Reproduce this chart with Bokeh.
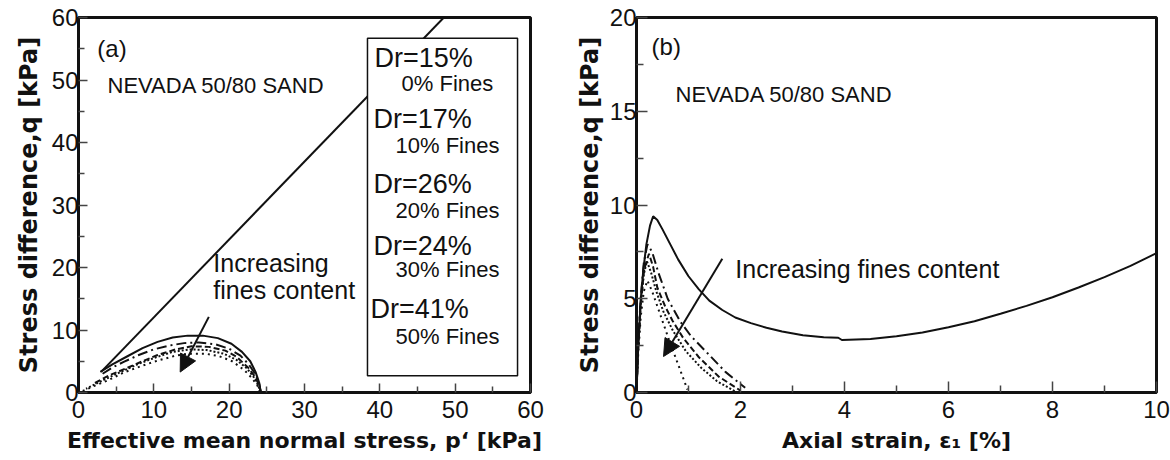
from bokeh.plotting import figure
from bokeh.layouts import row
from bokeh.models import Range1d, Label, BoxAnnotation, Arrow, NormalHead, FixedTicker
from bokeh.embed import file_html
from bokeh.resources import INLINE

# ---------------- data ----------------
fines = ["0% Fines", "10% Fines", "20% Fines", "30% Fines", "50% Fines"]
dr_labels = ["Dr=15%", "Dr=17%", "Dr=26%", "Dr=24%", "Dr=41%"]

# (a) stress paths: p' [kPa], q [kPa]
csl_p = [3.0, 48.5]
csl_q = [3.3, 60.0]
p_f0 = [24.2, 24.0, 23.5, 22.8, 21.7, 20.3, 18.5, 16.5, 14.5, 12.5, 10.5, 8.5, 6.5, 4.5, 2.9]
q_f0 = [0.0, 1.5, 3.3, 5.0, 6.5, 7.8, 8.7, 9.1, 9.1, 8.8, 8.1, 7.1, 5.8, 4.5, 3.3]
p_f10 = [24.2, 24.0, 23.5, 22.6, 21.5, 20.0, 18.2, 16.0, 14.0, 12.0, 10.0, 8.0, 6.0, 4.5, 3.2]
q_f10 = [0.0, 1.3, 2.9, 4.5, 5.9, 7.0, 7.7, 8.0, 7.9, 7.5, 6.9, 6.0, 4.9, 4.0, 3.0]
p_f20 = [24.2, 24.0, 23.4, 22.5, 21.0, 19.5, 17.3, 15.0, 12.9, 10.5, 8.5, 6.2, 4.0, 2.0]
q_f20 = [0.0, 1.1, 2.6, 4.0, 5.7, 6.7, 7.3, 7.4, 6.9, 6.0, 5.0, 3.8, 2.7, 1.4]
p_f30 = [24.1, 23.9, 23.3, 22.4, 21.0, 19.3, 17.0, 14.8, 12.5, 10.2, 8.0, 5.8, 3.5, 1.0]
q_f30 = [0.0, 1.0, 2.4, 3.8, 5.2, 6.2, 6.8, 6.9, 6.5, 5.6, 4.6, 3.4, 2.1, 0.6]
p_f50 = [24.0, 23.8, 23.1, 22.0, 20.4, 18.7, 16.9, 14.5, 12.9, 10.5, 8.5, 6.0, 4.0, 2.0, 0.5]
q_f50 = [0.0, 1.0, 2.2, 3.6, 5.0, 5.8, 6.2, 6.2, 5.9, 5.1, 4.3, 3.2, 2.0, 1.0, 0.2]

# (b) stress-strain: axial strain [%], q [kPa]
e_f0 = [0.0, 0.03, 0.08, 0.13, 0.19, 0.26, 0.32, 0.4, 0.5, 0.65, 0.8, 1.0, 1.2, 1.4, 1.65, 1.9,
        2.2, 2.5, 2.8, 3.2, 3.6, 3.88, 3.95, 4.5, 5.0, 5.5, 6.0, 6.5, 7.0, 7.5, 8.0, 8.5, 9.0, 9.5, 10.0]
s_f0 = [0.0, 2.2, 4.9, 6.5, 7.9, 8.9, 9.4, 9.2, 8.7, 7.9, 7.1, 6.2, 5.5, 4.9, 4.4, 4.0,
        3.7, 3.45, 3.25, 3.05, 2.95, 2.92, 2.8, 2.85, 3.0, 3.2, 3.48, 3.8, 4.2, 4.62, 5.08, 5.6, 6.15, 6.75, 7.43]
e_f10 = [0.0, 0.03, 0.08, 0.14, 0.21, 0.3, 0.42, 0.6, 0.85, 1.05, 1.33, 1.71, 2.09]
s_f10 = [0.0, 2.5, 5.0, 6.9, 7.9, 7.5, 6.4, 5.0, 3.75, 3.0, 2.2, 1.1, 0.25]
e_f20 = [0.0, 0.03, 0.08, 0.15, 0.24, 0.32, 0.4, 0.55, 0.69, 0.9, 1.2, 1.58, 2.0]
s_f20 = [0.0, 2.3, 4.8, 6.6, 7.4, 6.7, 5.6, 4.6, 3.84, 2.9, 1.88, 0.85, 0.1]
e_f30 = [0.0, 0.03, 0.08, 0.14, 0.2, 0.28, 0.38, 0.52, 0.7, 0.95, 1.25, 1.55, 1.9]
s_f30 = [0.0, 2.2, 4.6, 6.3, 7.0, 6.4, 5.4, 4.3, 3.3, 2.2, 1.3, 0.6, 0.05]
e_f50 = [0.0, 0.03, 0.08, 0.14, 0.21, 0.3, 0.43, 0.63, 0.82, 0.98]
s_f50 = [0.0, 1.9, 4.0, 5.4, 5.97, 5.4, 4.37, 2.77, 1.35, 0.15]

xticks_a = [0, 10, 20, 30, 40, 50, 60]
yticks_a = [0, 10, 20, 30, 40, 50, 60]
xticks_b = [0, 2, 4, 6, 8, 10]
yticks_b = [0, 5, 10, 15, 20]

# ---------------- styles ----------------
DASHES = ["solid", "10 4 2 4", "6 3", "2 2", "2 4"]
FONT = "Liberation Sans"
LBL_FONT = "DejaVu Sans"
INK = "#111111"


def make_fig(width, bl, br, bt, bb, xr, yr, xt, xm, yt, ym, xlabel, ylabel, tick_in, minor_in, ylab_standoff):
    p = figure(width=width, height=460, x_range=Range1d(*xr), y_range=Range1d(*yr),
               output_backend="svg", toolbar_location=None,
               min_border_left=bl, min_border_right=br, min_border_top=bt, min_border_bottom=bb)
    p.grid.visible = False
    p.background_fill_color = "white"
    p.border_fill_color = "white"
    p.outline_line_color = INK
    p.outline_line_width = 3
    p.outline_line_alpha = 1
    p.xaxis.ticker = FixedTicker(ticks=xt, minor_ticks=xm)
    p.yaxis.ticker = FixedTicker(ticks=yt, minor_ticks=ym)
    p.xaxis.axis_label = xlabel
    p.yaxis.axis_label = ylabel
    for ax in (p.xaxis[0], p.yaxis[0]):
        ax.axis_line_width = 3
        ax.axis_line_color = INK
        ax.major_tick_in = tick_in
        ax.major_tick_out = 0
        ax.minor_tick_in = minor_in
        ax.minor_tick_out = 0
        ax.major_tick_line_color = "#444444"
        ax.minor_tick_line_color = "#444444"
        ax.major_tick_line_width = 1.5
        ax.minor_tick_line_width = 1.5
        ax.major_label_text_font = FONT
        ax.major_label_text_font_size = "24px"
        ax.major_label_text_color = INK
        ax.axis_label_text_font = LBL_FONT
        ax.axis_label_text_font_style = "bold"
        ax.axis_label_text_color = INK
    p.xaxis.major_label_standoff = 8
    p.xaxis.axis_label_standoff = 7
    p.xaxis.axis_label_text_font_size = "22px"
    p.yaxis.major_label_standoff = 0
    p.yaxis.axis_label_standoff = ylab_standoff
    p.yaxis.axis_label_text_font_size = "24px"
    return p


def label(p, x, y, text, size, align="left"):
    p.add_layout(Label(x=x, y=y, text=text, text_font=FONT, text_font_size=size,
                       text_color=INK, text_baseline="middle", text_align=align))


# ---------------- (a) ----------------
pa = make_fig(572, 78, 42, 14, 66, (0, 60), (0, 60), xticks_a, [5, 15, 25, 35, 45, 55],
              yticks_a, [5, 15, 25, 35, 45, 55],
              "Effective mean normal stress, p\u2018 [kPa]", "Stress difference,q [kPa]", 9, 6, 6)
pa.line(csl_p, csl_q, line_color=INK, line_width=2)
for (px, qy), dash in zip([(p_f0, q_f0), (p_f10, q_f10), (p_f20, q_f20), (p_f30, q_f30), (p_f50, q_f50)], DASHES):
    pa.line(px, qy, line_color=INK, line_width=2, line_dash=dash)

label(pa, 2.5, 55.1, "(a)", "24px")
label(pa, 3.85, 49.1, "NEVADA 50/80 SAND", "22px")
label(pa, 17.9, 20.8, "Increasing", "25px")
label(pa, 17.9, 16.4, "fines content", "25px")
pa.add_layout(Arrow(x_start=17.3, y_start=12.1, x_end=13.5, y_end=3.27, line_width=2, line_color=INK,
                    end=NormalHead(size=17, fill_color=INK, line_color=INK)))

pa.add_layout(BoxAnnotation(left=38.36, right=58.28, bottom=2.68, top=56.7, fill_color="white",
                            fill_alpha=1.0, line_color=INK, line_width=1.5, line_alpha=1.0))
dr_pos = [(39.3, 53.5), (39.16, 43.7), (39.16, 33.3), (39.16, 23.4), (38.76, 13.3)]
fn_pos = [(42.88, 49.4), (42.08, 39.6), (42.08, 29.2), (42.08, 19.7), (42.08, 9.0)]
for t, (x, y) in zip(dr_labels, dr_pos):
    label(pa, x, y, t, "27px")
for t, (x, y) in zip(fines, fn_pos):
    label(pa, x, y, t, "22px")

# ---------------- (b) ----------------
pb = make_fig(598, 62, 14, 17, 68, (0, 10), (0, 20), xticks_b, [1, 3, 5, 7, 9],
              yticks_b, [2.5, 7.5, 12.5, 17.5],
              "Axial strain, \u03b5\u2081 [%]", "Stress difference,q [kPa]", 11, 7, 3)
for (ex, sy), dash in zip([(e_f0, s_f0), (e_f10, s_f10), (e_f20, s_f20), (e_f30, s_f30), (e_f50, s_f50)], DASHES):
    pb.line(ex, sy, line_color=INK, line_width=2, line_dash=dash)

label(pb, 0.29, 18.45, "(b)", "24px")
label(pb, 0.75, 15.89, "NEVADA 50/80 SAND", "22px")
label(pb, 1.90, 6.61, "Increasing fines content", "25px")
pb.add_layout(Arrow(x_start=1.65, y_start=7.13, x_end=0.52, y_end=1.92, line_width=2, line_color=INK,
                    end=NormalHead(size=17, fill_color=INK, line_color=INK)))

layout = row(pa, pb)
open("out.html", "w").write(file_html(layout, INLINE))
